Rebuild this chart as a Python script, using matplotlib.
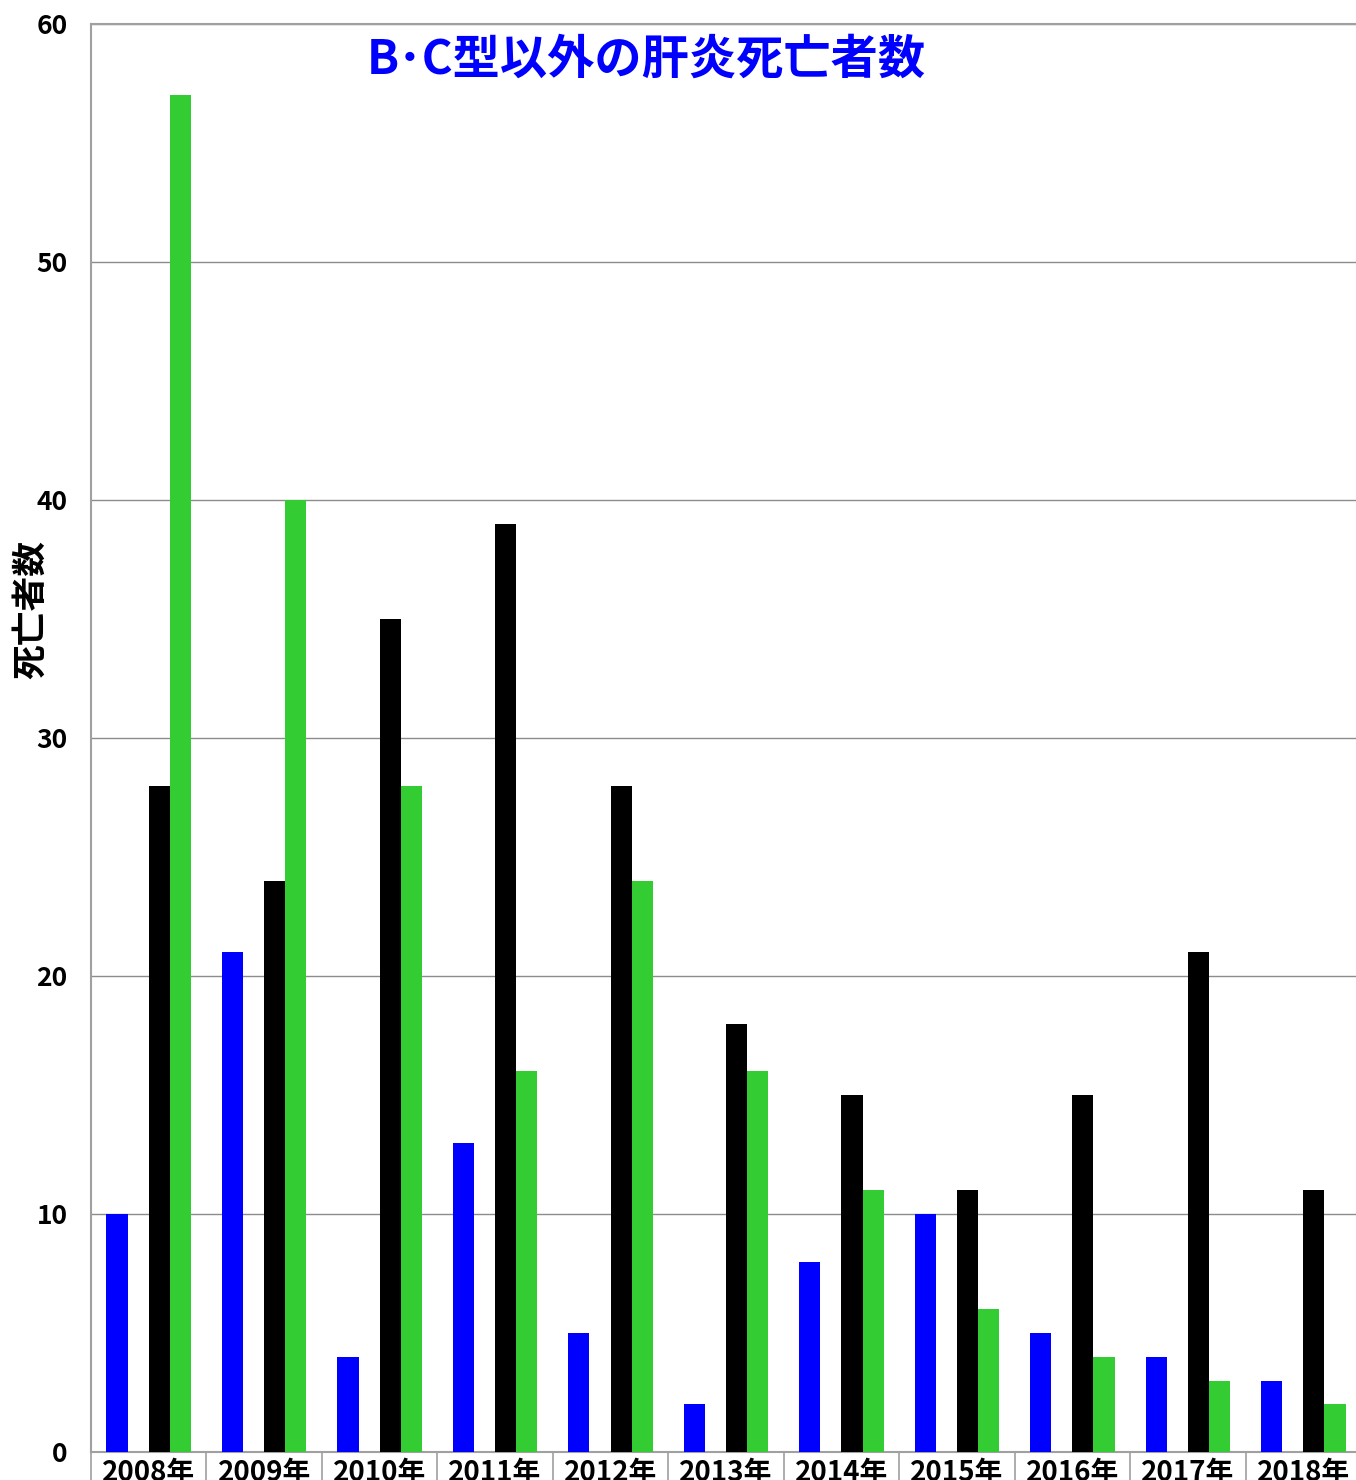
import matplotlib
matplotlib.use("Agg")
import matplotlib.pyplot as plt
import numpy as np

plt.rcParams['font.family'] = ['Noto Sans CJK JP', 'DejaVu Sans']

years = ["2008年", "2009年", "2010年", "2011年", "2012年", "2013年",
         "2014年", "2015年", "2016年", "2017年", "2018年"]
blue_vals = [10, 21, 4, 13, 5, 2, 8, 10, 5, 4, 3]
black_vals = [28, 24, 35, 39, 28, 18, 15, 11, 15, 21, 11]
green_vals = [57, 40, 28, 16, 24, 16, 11, 6, 4, 3, 2]
yticks = [0, 10, 20, 30, 40, 50, 60]

fig = plt.figure(figsize=(13.56, 14.8), dpi=100)
ax = fig.add_axes([91/1356, 28/1480, 1270/1356, 1428/1480])

x = np.arange(len(years))
w = 0.183
ax.bar(x - 1.5*w, blue_vals, w, color='#0000FF', zorder=3)
ax.bar(x + 0.5*w, black_vals, w, color='#000000', zorder=3)
ax.bar(x + 1.5*w, green_vals, w, color='#33CC33', zorder=3)

ax.set_xlim(-0.5, len(years) - 0.5)
ax.set_ylim(0, 60)
ax.set_yticks(yticks)
ax.set_yticklabels([str(v) for v in yticks], fontsize=19, fontweight='bold')
ax.tick_params(axis='y', length=0, pad=17)
ax.yaxis.grid(True, color='#8c8c8c', linewidth=1, zorder=0)

ax.set_xticks(x)
ax.set_xticklabels(years, fontsize=20, fontweight='bold')
ax.tick_params(axis='x', which='major', length=0, pad=5)
ax.set_xticks(np.arange(-0.5, len(years), 1.0), minor=True)
ax.tick_params(axis='x', which='minor', length=30, color='#a0a0a0', width=1.2)

for s in ['left', 'top', 'bottom']:
    ax.spines[s].set_color('#a0a0a0')
    ax.spines[s].set_linewidth(1.5)
ax.spines['right'].set_visible(False)

ax.set_ylabel("死亡者数", fontsize=25, fontweight='bold')
ax.yaxis.set_label_coords(-0.034, 0.59)

ax.text(0.437, 0.975, "B･C型以外の肝炎死亡者数", transform=ax.transAxes,
        ha='center', va='center', fontsize=34, fontweight='bold', color='#0000FF')

fig.savefig("out.png", dpi=100)
